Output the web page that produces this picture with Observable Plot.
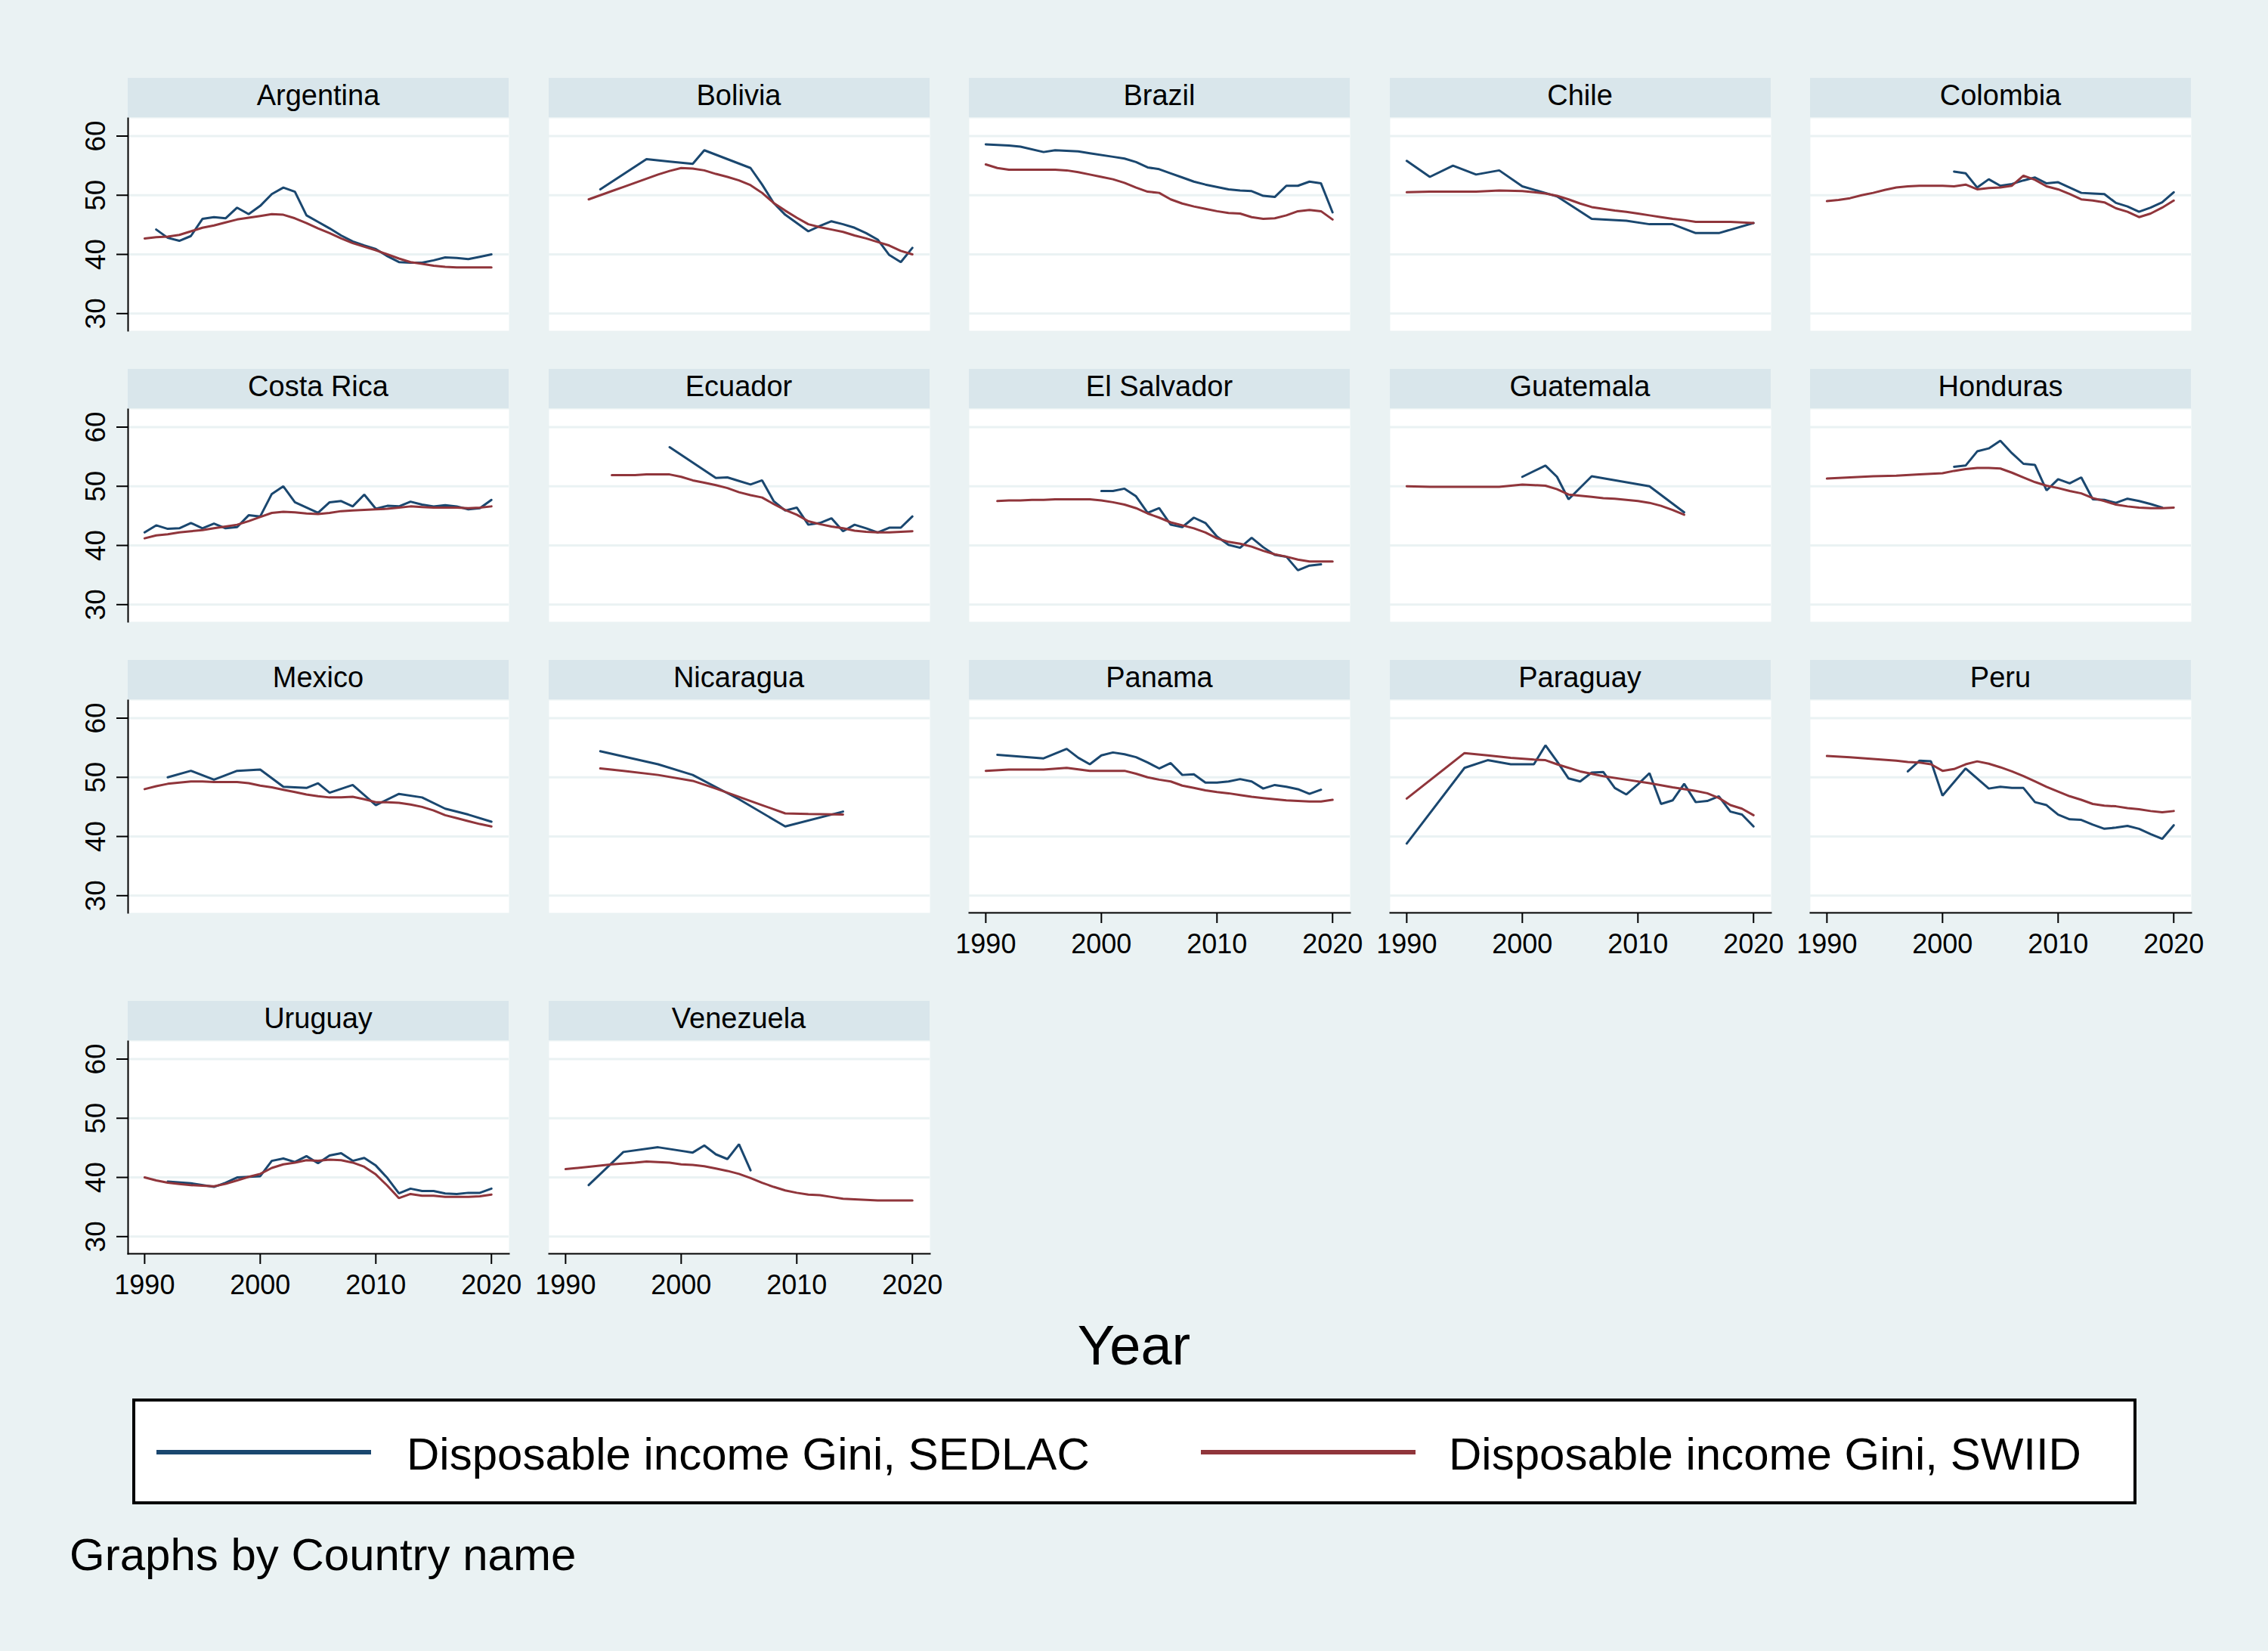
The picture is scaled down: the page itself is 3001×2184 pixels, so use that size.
<!DOCTYPE html>
<html>
<head>
<meta charset="utf-8">
<script src="https://cdn.jsdelivr.net/npm/d3@7"></script>
<script src="https://cdn.jsdelivr.net/npm/@observablehq/plot@0.6"></script>
<style>
  html, body { margin: 0; padding: 0; background: #EAF2F3; }
  #page { position: relative; width: 3001px; height: 2184px; background: #EAF2F3; overflow: hidden;
          font-family: "Liberation Sans", Arial, sans-serif; color: #000; }
  .strip { position: absolute; background: #D9E6EB; text-align: center; font-size: 38px; line-height: 46px; height: 52px; white-space: nowrap; }
  .panel { position: absolute; }
  .panel svg { display: block; overflow: visible; }
  .txt { position: absolute; line-height: 1; white-space: nowrap; }
  #legend { position: absolute; left: 175px; top: 1850px; width: 2652px; height: 140px; box-sizing: border-box;
            border: 4px solid #000; background: #fff; }
</style>
</head>
<body>
<div id="page"></div>
<script>
// Axis ticks and ranges
const yTicks = [30, 40, 50, 60];
const xTicks = [1990, 2000, 2010, 2020];
const yDomain = [27.1, 63];
const xDomain = [1988.57, 2021.52];

const SEDLAC_COLOR = "#1A476F";
const SWIID_COLOR = "#90353B";

// Disposable income Gini by country: [year, value]
const ARG_SEDLAC = [[1991,44.2],[1992,42.8],[1993,42.3],[1994,43.1],[1995,46.0],[1996,46.3],[1997,46.1],[1998,47.9],[1999,46.8],[2000,48.2],[2001,50.2],[2002,51.3],[2003,50.6],[2004,46.6],[2005,45.5],[2006,44.4],[2007,43.2],[2008,42.2],[2009,41.5],[2010,40.9],[2011,39.7],[2012,38.7],[2013,38.6],[2014,38.6],[2015,39.0],[2016,39.5],[2017,39.4],[2018,39.2],[2019,39.6],[2020,40.0]];
const ARG_SWIID = [[1990,42.7],[1991,42.9],[1992,43.0],[1993,43.3],[1994,43.9],[1995,44.5],[1996,44.9],[1997,45.4],[1998,45.9],[1999,46.2],[2000,46.5],[2001,46.8],[2002,46.7],[2003,46.1],[2004,45.3],[2005,44.4],[2006,43.6],[2007,42.7],[2008,41.9],[2009,41.3],[2010,40.7],[2011,40.0],[2012,39.3],[2013,38.7],[2014,38.4],[2015,38.1],[2016,37.9],[2017,37.8],[2018,37.8],[2019,37.8],[2020,37.8]];

const BOL_SEDLAC = [[1993,51.0],[1997,56.1],[1999,55.7],[2001,55.3],[2002,57.6],[2006,54.6],[2007,51.8],[2008,48.7],[2009,46.7],[2011,43.9],[2012,44.8],[2013,45.6],[2014,45.1],[2015,44.5],[2016,43.6],[2017,42.5],[2018,39.9],[2019,38.7],[2020,41.1]];
const BOL_SWIID = [[1992,49.3],[1993,50.0],[1994,50.7],[1995,51.4],[1996,52.1],[1997,52.8],[1998,53.5],[1999,54.1],[2000,54.6],[2001,54.5],[2002,54.2],[2003,53.6],[2004,53.1],[2005,52.5],[2006,51.7],[2007,50.4],[2008,48.7],[2009,47.4],[2010,46.2],[2011,45.1],[2012,44.6],[2013,44.2],[2014,43.8],[2015,43.2],[2016,42.7],[2017,42.1],[2018,41.5],[2019,40.6],[2020,40.0]];

const BRA_SEDLAC = [[1990,58.6],[1992,58.4],[1993,58.2],[1995,57.3],[1996,57.6],[1997,57.5],[1998,57.4],[1999,57.1],[2001,56.5],[2002,56.2],[2003,55.6],[2004,54.7],[2005,54.4],[2006,53.7],[2007,53.0],[2008,52.3],[2009,51.8],[2011,51.0],[2012,50.8],[2013,50.7],[2014,49.9],[2015,49.7],[2016,51.6],[2017,51.6],[2018,52.3],[2019,52.0],[2020,47.1]];
const BRA_SWIID = [[1990,55.2],[1991,54.6],[1992,54.3],[1993,54.3],[1994,54.3],[1995,54.3],[1996,54.3],[1997,54.2],[1998,53.9],[1999,53.5],[2000,53.1],[2001,52.7],[2002,52.1],[2003,51.3],[2004,50.6],[2005,50.4],[2006,49.3],[2007,48.6],[2008,48.1],[2009,47.7],[2010,47.3],[2011,47.0],[2012,46.9],[2013,46.3],[2014,46.0],[2015,46.1],[2016,46.6],[2017,47.3],[2018,47.5],[2019,47.3],[2020,45.9]];

const CHL_SEDLAC = [[1990,55.8],[1992,53.1],[1994,55.0],[1996,53.5],[1998,54.2],[2000,51.5],[2003,49.8],[2006,46.0],[2009,45.7],[2011,45.1],[2013,45.1],[2015,43.6],[2017,43.6],[2020,45.3]];
const CHL_SWIID = [[1990,50.5],[1992,50.6],[1994,50.6],[1996,50.6],[1998,50.8],[2000,50.7],[2001,50.5],[2002,50.3],[2003,49.9],[2004,49.3],[2005,48.6],[2006,48.0],[2007,47.7],[2008,47.4],[2009,47.2],[2010,46.9],[2011,46.6],[2012,46.3],[2013,46.0],[2014,45.8],[2015,45.5],[2016,45.5],[2017,45.5],[2018,45.5],[2019,45.4],[2020,45.3]];

const COL_SEDLAC = [[2001,54.0],[2002,53.7],[2003,51.3],[2004,52.7],[2005,51.6],[2006,51.9],[2007,52.5],[2008,53.0],[2009,52.0],[2010,52.2],[2011,51.3],[2012,50.4],[2013,50.3],[2014,50.2],[2015,48.7],[2016,48.1],[2017,47.2],[2018,47.9],[2019,48.8],[2020,50.5]];
const COL_SWIID = [[1990,49.0],[1991,49.2],[1992,49.5],[1993,50.0],[1994,50.4],[1995,50.9],[1996,51.3],[1997,51.5],[1998,51.6],[1999,51.6],[2000,51.6],[2001,51.5],[2002,51.8],[2003,51.0],[2004,51.2],[2005,51.3],[2006,51.6],[2007,53.3],[2008,52.6],[2009,51.5],[2010,51.0],[2011,50.2],[2012,49.3],[2013,49.1],[2014,48.8],[2015,47.8],[2016,47.2],[2017,46.3],[2018,46.9],[2019,47.9],[2020,49.1]];

const CRI_SEDLAC = [[1990,42.2],[1991,43.4],[1992,42.8],[1993,42.9],[1994,43.8],[1995,42.9],[1996,43.7],[1997,42.9],[1998,43.1],[1999,45.1],[2000,44.9],[2001,48.7],[2002,50.0],[2003,47.3],[2004,46.4],[2005,45.5],[2006,47.3],[2007,47.5],[2008,46.6],[2009,48.6],[2010,46.2],[2011,46.7],[2012,46.6],[2013,47.4],[2014,46.9],[2015,46.6],[2016,46.8],[2017,46.6],[2018,46.1],[2019,46.3],[2020,47.7]];
const CRI_SWIID = [[1990,41.2],[1991,41.7],[1992,41.9],[1993,42.2],[1994,42.4],[1995,42.6],[1996,42.9],[1997,43.2],[1998,43.5],[1999,44.1],[2000,44.8],[2001,45.5],[2002,45.7],[2003,45.6],[2004,45.4],[2005,45.3],[2006,45.5],[2007,45.8],[2008,45.9],[2009,46.0],[2010,46.1],[2011,46.2],[2012,46.4],[2013,46.6],[2014,46.5],[2015,46.4],[2016,46.4],[2017,46.4],[2018,46.3],[2019,46.4],[2020,46.6]];

const ECU_SEDLAC = [[1999,56.6],[2003,51.4],[2004,51.5],[2005,50.9],[2006,50.3],[2007,51.0],[2008,47.5],[2009,45.9],[2010,46.4],[2011,43.5],[2012,43.8],[2013,44.6],[2014,42.4],[2015,43.5],[2016,42.9],[2017,42.2],[2018,43.0],[2019,43.0],[2020,44.9]];
const ECU_SWIID = [[1994,51.9],[1995,51.9],[1996,51.9],[1997,52.0],[1998,52.0],[1999,52.0],[2000,51.6],[2001,51.0],[2002,50.6],[2003,50.2],[2004,49.7],[2005,49.0],[2006,48.5],[2007,48.1],[2008,47.0],[2009,46.0],[2010,45.2],[2011,44.1],[2012,43.6],[2013,43.2],[2014,42.9],[2015,42.5],[2016,42.3],[2017,42.2],[2018,42.2],[2019,42.3],[2020,42.4]];

const SLV_SEDLAC = [[2000,49.2],[2001,49.2],[2002,49.6],[2003,48.3],[2004,45.5],[2005,46.3],[2006,43.5],[2007,43.1],[2008,44.7],[2009,43.8],[2010,41.5],[2011,40.1],[2012,39.6],[2013,41.3],[2014,39.7],[2015,38.4],[2016,38.1],[2017,35.8],[2018,36.6],[2019,36.8]];
const SLV_SWIID = [[1991,47.5],[1992,47.6],[1993,47.6],[1994,47.7],[1995,47.7],[1996,47.8],[1997,47.8],[1998,47.8],[1999,47.8],[2000,47.6],[2001,47.3],[2002,46.9],[2003,46.3],[2004,45.4],[2005,44.7],[2006,43.9],[2007,43.4],[2008,42.9],[2009,42.2],[2010,41.2],[2011,40.6],[2012,40.3],[2013,39.8],[2014,39.1],[2015,38.5],[2016,38.1],[2017,37.6],[2018,37.3],[2019,37.3],[2020,37.3]];

const GTM_SEDLAC = [[2000,51.6],[2002,53.5],[2003,51.6],[2004,47.8],[2006,51.7],[2011,50.0],[2014,45.6]];
const GTM_SWIID = [[1990,50.0],[1992,49.9],[1994,49.9],[1996,49.9],[1998,49.9],[1999,50.1],[2000,50.3],[2001,50.2],[2002,50.1],[2003,49.5],[2004,48.6],[2005,48.4],[2006,48.2],[2007,48.0],[2008,47.9],[2009,47.7],[2010,47.5],[2011,47.2],[2012,46.7],[2013,46.0],[2014,45.2]];

const HND_SEDLAC = [[2001,53.3],[2002,53.5],[2003,55.9],[2004,56.4],[2005,57.7],[2006,55.6],[2007,53.8],[2008,53.6],[2009,49.3],[2010,51.2],[2011,50.5],[2012,51.5],[2013,47.8],[2014,47.7],[2015,47.2],[2016,47.9],[2017,47.5],[2018,47.0],[2019,46.4]];
const HND_SWIID = [[1990,51.3],[1992,51.5],[1994,51.7],[1996,51.8],[1998,52.0],[2000,52.2],[2001,52.6],[2002,52.9],[2003,53.1],[2004,53.1],[2005,53.0],[2006,52.3],[2007,51.5],[2008,50.7],[2009,50.1],[2010,49.7],[2011,49.2],[2012,48.8],[2013,48.0],[2014,47.5],[2015,46.9],[2016,46.6],[2017,46.4],[2018,46.3],[2019,46.3],[2020,46.4]];

const MEX_SEDLAC = [[1992,50.0],[1994,51.1],[1996,49.6],[1998,51.1],[2000,51.3],[2002,48.4],[2004,48.2],[2005,49.0],[2006,47.4],[2008,48.7],[2010,45.3],[2012,47.2],[2014,46.6],[2016,44.7],[2018,43.7],[2020,42.5]];
const MEX_SWIID = [[1990,48.0],[1991,48.5],[1992,48.9],[1993,49.1],[1994,49.3],[1995,49.3],[1996,49.2],[1997,49.2],[1998,49.2],[1999,49.0],[2000,48.6],[2001,48.3],[2002,47.9],[2003,47.5],[2004,47.1],[2005,46.8],[2006,46.6],[2007,46.6],[2008,46.7],[2009,46.3],[2010,45.8],[2011,45.8],[2012,45.7],[2013,45.4],[2014,45.0],[2015,44.4],[2016,43.6],[2017,43.1],[2018,42.6],[2019,42.1],[2020,41.7]];

const NIC_SEDLAC = [[1993,54.4],[1998,52.2],[2001,50.4],[2005,46.3],[2009,41.7],[2014,44.2]];
const NIC_SWIID = [[1993,51.5],[1995,51.1],[1998,50.4],[2001,49.4],[2003,48.1],[2005,46.7],[2007,45.3],[2009,43.9],[2011,43.8],[2014,43.7]];

const PAN_SEDLAC = [[1991,53.8],[1995,53.2],[1997,54.8],[1998,53.3],[1999,52.2],[2000,53.7],[2001,54.2],[2002,53.9],[2003,53.4],[2004,52.5],[2005,51.5],[2006,52.4],[2007,50.4],[2008,50.5],[2009,49.1],[2010,49.1],[2011,49.3],[2012,49.7],[2013,49.3],[2014,48.1],[2015,48.7],[2016,48.4],[2017,48.0],[2018,47.2],[2019,47.9]];
const PAN_SWIID = [[1990,51.1],[1992,51.3],[1995,51.3],[1997,51.6],[1999,51.1],[2002,51.1],[2003,50.6],[2004,50.0],[2005,49.6],[2006,49.3],[2007,48.6],[2008,48.2],[2009,47.8],[2010,47.5],[2011,47.3],[2012,47.0],[2013,46.7],[2014,46.5],[2015,46.3],[2016,46.1],[2017,46.0],[2018,45.9],[2019,45.9],[2020,46.2]];

const PRY_SEDLAC = [[1990,38.8],[1995,51.6],[1997,52.9],[1999,52.2],[2001,52.2],[2002,55.4],[2003,52.7],[2004,49.8],[2005,49.3],[2006,50.8],[2007,50.9],[2008,48.2],[2009,47.1],[2010,48.8],[2011,50.7],[2012,45.5],[2013,46.1],[2014,48.9],[2015,45.8],[2016,46.0],[2017,46.8],[2018,44.2],[2019,43.7],[2020,41.7]];
const PRY_SWIID = [[1990,46.4],[1995,54.1],[1997,53.7],[1999,53.3],[2001,53.0],[2002,52.9],[2003,52.2],[2005,51.0],[2007,50.2],[2009,49.6],[2011,49.0],[2013,48.3],[2015,47.7],[2016,47.3],[2017,46.5],[2018,45.3],[2019,44.7],[2020,43.6]];

const PER_SEDLAC = [[1997,51.0],[1998,52.8],[1999,52.7],[2000,46.9],[2002,51.5],[2004,48.1],[2005,48.4],[2006,48.2],[2007,48.2],[2008,45.8],[2009,45.3],[2010,43.7],[2011,42.9],[2012,42.8],[2013,42.0],[2014,41.3],[2015,41.5],[2016,41.8],[2017,41.3],[2018,40.4],[2019,39.6],[2020,41.9]];
const PER_SWIID = [[1990,53.6],[1992,53.4],[1994,53.1],[1996,52.8],[1997,52.6],[1998,52.5],[1999,52.2],[2000,51.1],[2001,51.4],[2002,52.2],[2003,52.7],[2004,52.3],[2005,51.7],[2006,51.0],[2007,50.2],[2008,49.3],[2009,48.4],[2010,47.6],[2011,46.8],[2012,46.2],[2013,45.5],[2014,45.2],[2015,45.1],[2016,44.8],[2017,44.6],[2018,44.3],[2019,44.1],[2020,44.3]];

const URY_SEDLAC = [[1992,39.3],[1994,39.0],[1996,38.4],[1997,39.1],[1998,40.0],[1999,40.1],[2000,40.2],[2001,42.8],[2002,43.2],[2003,42.6],[2004,43.6],[2005,42.4],[2006,43.7],[2007,44.1],[2008,42.8],[2009,43.3],[2010,42.0],[2011,39.9],[2012,37.3],[2013,38.1],[2014,37.7],[2015,37.7],[2016,37.3],[2017,37.2],[2018,37.4],[2019,37.4],[2020,38.1]];
const URY_SWIID = [[1990,40.0],[1991,39.5],[1992,39.1],[1993,38.9],[1994,38.7],[1995,38.6],[1996,38.5],[1997,38.9],[1998,39.5],[1999,40.1],[2000,40.6],[2001,41.6],[2002,42.2],[2003,42.5],[2004,42.9],[2005,42.8],[2006,43.0],[2007,42.9],[2008,42.5],[2009,41.8],[2010,40.5],[2011,38.6],[2012,36.5],[2013,37.2],[2014,36.9],[2015,36.9],[2016,36.7],[2017,36.7],[2018,36.7],[2019,36.8],[2020,37.1]];

const VEN_SEDLAC = [[1992,38.7],[1995,44.3],[1998,45.1],[2001,44.2],[2002,45.4],[2003,43.9],[2004,43.1],[2005,45.6],[2006,41.2]];
const VEN_SWIID = [[1990,41.4],[1992,41.8],[1994,42.2],[1996,42.5],[1997,42.7],[1998,42.6],[1999,42.5],[2000,42.2],[2001,42.1],[2002,41.9],[2003,41.5],[2004,41.1],[2005,40.6],[2006,39.9],[2007,39.1],[2008,38.4],[2009,37.8],[2010,37.4],[2011,37.1],[2012,37.0],[2013,36.7],[2014,36.4],[2015,36.3],[2016,36.2],[2017,36.1],[2018,36.1],[2019,36.1],[2020,36.1]];

const countries = ["Argentina","Bolivia","Brazil","Chile","Colombia","Costa Rica","Ecuador","El Salvador","Guatemala","Honduras","Mexico","Nicaragua","Panama","Paraguay","Peru","Uruguay","Venezuela"];
const sedlacSeries = [ARG_SEDLAC,BOL_SEDLAC,BRA_SEDLAC,CHL_SEDLAC,COL_SEDLAC,CRI_SEDLAC,ECU_SEDLAC,SLV_SEDLAC,GTM_SEDLAC,HND_SEDLAC,MEX_SEDLAC,NIC_SEDLAC,PAN_SEDLAC,PRY_SEDLAC,PER_SEDLAC,URY_SEDLAC,VEN_SEDLAC];
const swiidSeries = [ARG_SWIID,BOL_SWIID,BRA_SWIID,CHL_SWIID,COL_SWIID,CRI_SWIID,ECU_SWIID,SLV_SWIID,GTM_SWIID,HND_SWIID,MEX_SWIID,NIC_SWIID,PAN_SWIID,PRY_SWIID,PER_SWIID,URY_SWIID,VEN_SWIID];

const legendLabels = ["Disposable income Gini, SEDLAC", "Disposable income Gini, SWIID"];

// Grid geometry (pixels)
const NCOL = 5;
const colLeft = c => 169 + 556.5 * c;
const stripTop = [103, 488, 873, 1324];
const STRIP_H = 52.5, PLOT_W = 504, PLOT_H = 281;
const ML = 90, MB = 75, MR = 2;
const LINE_W = 3;

const page = document.getElementById("page");
const font = '"Liberation Sans", Arial, sans-serif';

countries.forEach((name, i) => {
  const row = Math.floor(i / NCOL), col = i % NCOL;
  const left = colLeft(col), top = stripTop[row];
  const hasLeftAxis = col === 0;
  const hasBottomAxis = i + NCOL >= countries.length;

  const strip = document.createElement("div");
  strip.className = "strip";
  strip.style.left = left + "px";
  strip.style.top = top + "px";
  strip.style.width = PLOT_W + "px";
  strip.textContent = name;
  page.appendChild(strip);

  const marks = [
    Plot.frame({fill: "#fff", stroke: "none"}),
    Plot.ruleY(yTicks, {stroke: "#EAF2F3", strokeWidth: 3}),
    Plot.line(sedlacSeries[i], {x: d => d[0], y: d => d[1], stroke: SEDLAC_COLOR, strokeWidth: LINE_W, strokeLinejoin: "miter"}),
    Plot.line(swiidSeries[i], {x: d => d[0], y: d => d[1], stroke: SWIID_COLOR, strokeWidth: LINE_W, strokeLinejoin: "miter"})
  ];
  if (hasLeftAxis) {
    marks.push(
      Plot.frame({anchor: "left", stroke: "#000", strokeWidth: 2}),
      Plot.axisY(yTicks, {tickSize: 15, tickFormat: () => "", stroke: "#000", strokeWidth: 2}),
      Plot.text(yTicks, {y: d => d, text: d => String(d), frameAnchor: "left", dx: -42, rotate: -90,
                         fontSize: 37, fill: "#000", lineAnchor: "middle", textAnchor: "middle"})
    );
  }
  if (hasBottomAxis) {
    marks.push(
      Plot.frame({anchor: "bottom", stroke: "#000", strokeWidth: 2}),
      Plot.axisX(xTicks, {tickSize: 14, tickFormat: () => "", stroke: "#000", strokeWidth: 2}),
      Plot.text(xTicks, {x: d => d, text: d => String(d), frameAnchor: "bottom", dy: 42,
                         fontSize: 36, fill: "#000", lineAnchor: "middle", textAnchor: "middle"})
    );
  }

  const chart = Plot.plot({
    width: PLOT_W + ML + MR,
    height: PLOT_H + MB,
    marginLeft: ML, marginRight: MR, marginTop: 0, marginBottom: MB,
    x: {domain: xDomain, axis: null},
    y: {domain: yDomain, axis: null},
    style: {background: "transparent", fontFamily: font, overflow: "visible"},
    marks
  });

  const holder = document.createElement("div");
  holder.className = "panel";
  holder.style.left = (left - ML) + "px";
  holder.style.top = (top + STRIP_H) + "px";
  holder.appendChild(chart);
  page.appendChild(holder);
});

// Shared x-axis title
const xTitle = document.createElement("div");
xTitle.className = "txt";
xTitle.style.cssText = "left:0;width:3001px;text-align:center;top:1743px;font-size:74px;";
xTitle.textContent = "Year";
page.appendChild(xTitle);

// Legend
const legend = document.createElement("div");
legend.id = "legend";
page.appendChild(legend);
const keyColors = [SEDLAC_COLOR, SWIID_COLOR];
const keyX = [207, 1589], labelX = [538, 1917];
legendLabels.forEach((label, k) => {
  const key = document.createElement("div");
  key.style.cssText = `position:absolute;left:${keyX[k]}px;top:1918px;width:284px;height:5.5px;background:${keyColors[k]};`;
  page.appendChild(key);
  const t = document.createElement("div");
  t.className = "txt";
  t.style.cssText = `left:${labelX[k]}px;top:1894px;font-size:60px;`;
  t.textContent = label;
  page.appendChild(t);
});

// Note below
const note = document.createElement("div");
note.className = "txt";
note.style.cssText = "left:92px;top:2027px;font-size:60px;";
note.textContent = "Graphs by Country name";
page.appendChild(note);
</script>
</body>
</html>
